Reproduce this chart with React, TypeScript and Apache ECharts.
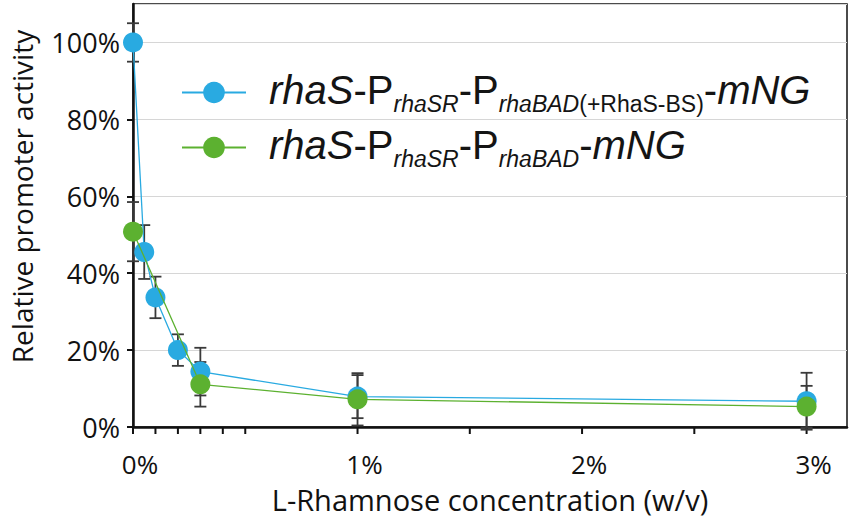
import { useEffect, useRef } from 'react';
import * as echarts from 'echarts';

const blueX = [0, 0.05, 0.1, 0.2, 0.3, 1, 3];
const blueY = [100, 45.5, 33.7, 20.0, 14.4, 7.9, 6.7];
const blueErr = [5, 7, 5.4, 4.1, 6.2, 5.6, 7.4];
const greenX = [0, 0.3, 1, 3];
const greenY = [50.8, 11.1, 7.2, 5.3];
const greenErr = [7.7, 5.8, 6.8, 5.4];
const xTickValues = [0, 0.1, 0.2, 0.3, 0.4, 0.5, 1, 1.5, 2, 2.5, 3];

const blueName = 'rhaS-PrhaSR-PrhaBAD(+RhaS-BS)-mNG';
const greenName = 'rhaS-PrhaSR-PrhaBAD-mNG';
const blueLegend = '{i|rhaS}{n|-P}{si|rhaSR}{n|-P}{si|rhaBAD}{sn|(+RhaS-BS)}{n|-}{i|mNG}';
const greenLegend = '{i|rhaS}{n|-P}{si|rhaSR}{n|-P}{si|rhaBAD}{n|-}{i|mNG}';

const BLUE = '#29aae1';
const GREEN = '#5cb130';
const FONT = 'Open Sans';

export default function App() {
  const ref = useRef<HTMLDivElement>(null);
  useEffect(() => {
    const chart = echarts.init(ref.current!, null, { renderer: 'svg' });
    const errBar = (params: any, api: any) => {
      const x = api.value(0), y = api.value(1), e = api.value(2);
      const t = api.coord([x, y + e]);
      const b = api.coord([x, y - e]);
      const w = 6;
      const st = { stroke: '#3a3a3a', lineWidth: 1.8 };
      return {
        type: 'group',
        children: [
          { type: 'line', shape: { x1: t[0], y1: t[1], x2: b[0], y2: b[1] }, style: st },
          { type: 'line', shape: { x1: t[0] - w, y1: t[1], x2: t[0] + w, y2: t[1] }, style: st },
          { type: 'line', shape: { x1: b[0] - w, y1: b[1], x2: b[0] + w, y2: b[1] }, style: st },
        ],
      };
    };
    const mainTok = { fontFamily: 'Liberation Sans', fontSize: 40, lineHeight: 40, verticalAlign: 'top', color: '#141414' };
    const subTok = { fontFamily: 'Liberation Sans', fontSize: 23, padding: [22, 0, 0, 0], verticalAlign: 'top', color: '#141414' };
    chart.setOption({
      animation: false,
      grid: { left: 132, right: 4, top: 4, bottom: 93, show: true, borderColor: '#111', borderWidth: 1.5 },
      legend: {
        data: [blueName, greenName],
        orient: 'vertical',
        left: 176,
        top: 65,
        itemWidth: 64,
        itemHeight: 27,
        itemGap: 10,
        formatter: (name: string) => (name === blueName ? blueLegend : greenLegend),
        textStyle: {
          padding: [0, 0, 0, 18],
          rich: {
            i: { ...mainTok, fontStyle: 'italic' },
            n: { ...mainTok },
            si: { ...subTok, fontStyle: 'italic' },
            sn: { ...subTok },
          },
        },
      },
      xAxis: {
        type: 'value',
        min: 0,
        max: 3.18,
        interval: 1,
        name: 'L-Rhamnose concentration (w/v)',
        nameLocation: 'middle',
        nameGap: 58,
        nameTextStyle: { fontFamily: FONT, fontSize: 29, lineHeight: 29, color: '#111' },
        axisLine: { lineStyle: { color: '#111', width: 2.5 } },
        axisTick: { show: false },
        splitLine: { show: false },
        axisLabel: {
          showMaxLabel: false,
          margin: 25,
          fontFamily: FONT,
          fontSize: 26,
          lineHeight: 24,
          color: '#111',
          padding: [0, 0, 0, 14],
          formatter: (v: number) => `${v}%`,
        },
      },
      yAxis: {
        type: 'value',
        min: 0,
        max: 110,
        interval: 20,
        name: 'Relative promoter activity',
        nameLocation: 'middle',
        nameGap: 97,
        nameTextStyle: { fontFamily: FONT, fontSize: 28, color: '#111', padding: [0, 0, 0, 38] },
        axisLine: { show: true, lineStyle: { color: '#111', width: 2.5 } },
        axisTick: { show: true, length: 6, lineStyle: { color: '#111', width: 2 } },
        splitLine: { show: true, lineStyle: { color: '#d6d6d6', width: 1.2 } },
        axisLabel: {
          showMaxLabel: false,
          margin: 13,
          fontFamily: FONT,
          fontSize: 27,
          color: '#111',
          formatter: (v: number) => `${v}%`,
        },
      },
      series: [
        {
          name: 'xticks',
          type: 'custom',
          z: 1,
          silent: true,
          data: xTickValues.map((v) => [v, 0]),
          encode: { x: 0, y: 1 },
          renderItem: (params: any, api: any) => {
            const p = api.coord([api.value(0), 0]);
            return { type: 'line', shape: { x1: p[0], y1: p[1], x2: p[0], y2: p[1] + 7 }, style: { stroke: '#111', lineWidth: 2 } };
          },
        },
        {
          name: 'blueErr',
          type: 'custom',
          z: 1,
          data: blueX.map((x, i) => [x, blueY[i], blueErr[i]]),
          encode: { x: 0, y: 1 },
          renderItem: errBar,
        },
        {
          name: 'greenErr',
          type: 'custom',
          z: 1,
          data: greenX.map((x, i) => [x, greenY[i], greenErr[i]]),
          encode: { x: 0, y: 1 },
          renderItem: errBar,
        },
        {
          name: blueName,
          type: 'line',
          z: 3,
          data: blueX.map((x, i) => [x, blueY[i]]),
          symbol: 'circle',
          symbolSize: 20,
          itemStyle: { color: BLUE },
          lineStyle: { color: BLUE, width: 1.3 },
        },
        {
          name: greenName,
          type: 'line',
          z: 4,
          data: greenX.map((x, i) => [x, greenY[i]]),
          symbol: 'circle',
          symbolSize: 20,
          itemStyle: { color: GREEN },
          lineStyle: { color: GREEN, width: 1.3 },
        },
      ],
    });
    return () => chart.dispose();
  }, []);
  return <div ref={ref} style={{ width: 851, height: 520, position: 'absolute', left: 0, top: 0 }} />;
}
